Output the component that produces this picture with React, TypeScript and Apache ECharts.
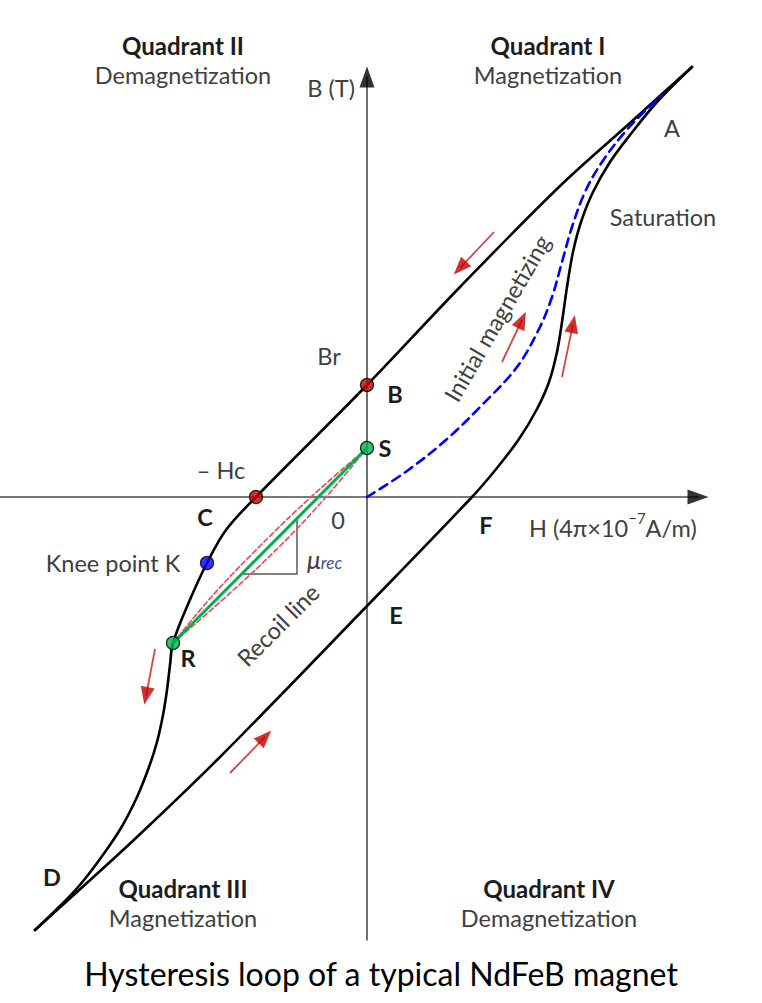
import React, { useEffect, useRef } from "react";
import * as echarts from "echarts";

// Field axis H (x) and induction axis B (y), drawing units, origin at H = 0, B = 0
const hRange = [-367, 395];
const bRange = [-506, 497];

// Descending branch: A -> B (Br) -> C (-Hc) -> K -> R -> D
const descendingBranch: number[][] = [
  [325, 430], [295, 403], [263, 374], [193, 311], [93, 210], [0, 112],
  [-111, 0], [-141, -33], [-160, -66], [-178, -105], [-194, -146],
  [-197, -168], [-200, -193], [-204, -218], [-210, -245], [-218, -270],
  [-230, -300], [-246, -331], [-267, -362], [-288, -389], [-310, -412], [-332, -433],
];

// Ascending branch: D -> E -> F -> A
const ascendingBranch: number[][] = [
  [-332, -433], [-290, -395], [-230, -340], [-147, -260], [0, -109], [105, 0],
  [130, 29], [152, 58], [170, 88], [182, 115], [190, 145], [195, 175],
  [200, 210], [206, 245], [214, 275], [226, 305], [243, 335], [263, 362],
  [290, 395], [325, 430],
];

// Initial magnetizing curve (from origin to saturation)
const initialCurve: number[][] = [
  [0, 0], [40, 26], [80, 58], [115, 92], [150, 130], [172, 168], [185, 200],
  [195, 235], [205, 270], [218, 305], [235, 335], [258, 365], [280, 388], [295, 402],
];

// Recoil line R -> S and its minor loop
const recoilLine: number[][] = [[-194, -146], [0, 49]];
const recoilUpper: number[][] = [[-194, -146], [-153, -97], [-106, -48], [-56, 0], [0, 49]];
const recoilLower: number[][] = [[-194, -146], [-138, -97], [-86, -48], [-41, 0], [0, 49]];
const slopeTriangle: number[][] = [[-125, -77], [-70, -77], [-70, -21]];

// Key points
const pointNames = ["B", "S", "C", "K", "R"];
const pointH = [0, 0, -111, -160, -194];
const pointB = [112, 49, 0, -66, -146];
const pointColors = ["#c00000", "#00b050", "#c00000", "#0000ff", "#00b050"];

// Direction arrows: [H tail, B tail, H head, B head]
const redArrows: number[][] = [
  [127, 265, 93, 229],
  [135, 135, 155, 177],
  [195, 120, 206, 173],
  [-212, -152, -221, -199],
  [-137, -276, -102, -240],
];

// Coordinate axes: [start H, start B, end H, end B]
const hAxisLine: number[] = [-367, 0, 331, 0];
const bAxisLine: number[] = [0, -443, 0, 420];

const angleOf = (a: number[]) => (Math.atan2(a[3] - a[1], a[2] - a[0]) * 180) / Math.PI - 90;

export default function App() {
  const ref = useRef<HTMLDivElement>(null);

  useEffect(() => {
    const chart = echarts.init(ref.current as HTMLDivElement, null, { renderer: "svg" });
    const FONT = 'Lato, "Noto Sans", sans-serif';
    const gray = "#404040";
    const dark = "#1c1c1c";
    const SZ = 23.5;

    const txt = (text: string, x: number, y: number, o: any = {}) => ({
      type: "text",
      x,
      y,
      rotation: o.rot ? (o.rot * Math.PI) / 180 : 0,
      silent: true,
      z: 50,
      style: {
        text,
        fill: o.fill || gray,
        fontFamily: FONT,
        fontSize: o.size || SZ,
        fontWeight: o.bold ? "bold" : "normal",
        fontStyle: o.italic ? "italic" : "normal",
        align: o.align || "center",
        verticalAlign: "middle",
        rich: o.rich,
      },
    });

    const lineSeries = (name: string, data: number[][], color: string, width: number, type: any = "solid", smooth: any = false, z = 2) => ({
      name,
      type: "line",
      data,
      smooth,
      symbol: "none",
      silent: true,
      z,
      lineStyle: { color, width, type, cap: "round", join: "round" },
    });

    const axes = [hAxisLine, bAxisLine];

    chart.setOption({
      animation: false,
      backgroundColor: "#ffffff",
      grid: { left: 0, right: 0, top: 0, bottom: 0, containLabel: false },
      xAxis: { type: "value", min: hRange[0], max: hRange[1], show: false },
      yAxis: { type: "value", min: bRange[0], max: bRange[1], show: false },
      series: [
        lineSeries("H axis", [[hAxisLine[0], hAxisLine[1]], [hAxisLine[2], hAxisLine[3]]], "#4d4d4d", 1.6, "solid", false, 1),
        lineSeries("B axis", [[bAxisLine[0], bAxisLine[1]], [bAxisLine[2], bAxisLine[3]]], "#4d4d4d", 1.6, "solid", false, 1),
        {
          name: "axis heads",
          type: "scatter",
          silent: true,
          z: 3,
          symbol: "triangle",
          symbolSize: [15, 21],
          data: axes.map((a) => ({ value: [a[2], a[3]], symbolRotate: angleOf(a) })),
          itemStyle: { color: "#000000" },
        },
        lineSeries("Descending branch", descendingBranch, "#000000", 2.6, "solid", 0.35, 4),
        lineSeries("Ascending branch", ascendingBranch, "#000000", 2.6, "solid", 0.35, 4),
        lineSeries("Initial magnetizing", initialCurve, "#0000ff", 2.6, [9, 6], 0.35, 5),
        lineSeries("Minor loop upper", recoilUpper, "#e05555", 1.7, [5, 3], 0.4, 5),
        lineSeries("Minor loop lower", recoilLower, "#e05555", 1.7, [5, 3], 0.4, 5),
        lineSeries("Recoil line", recoilLine, "#00b050", 3, "solid", false, 6),
        lineSeries("Slope", slopeTriangle, "#595959", 1.5, "solid", false, 3),
        {
          name: "arrow shafts",
          type: "line",
          data: [],
          silent: true,
          z: 7,
          markLine: {
            silent: true,
            animation: false,
            symbol: ["none", "none"],
            label: { show: false },
            lineStyle: { color: "#d84545", width: 1.8, type: "solid" },
            data: redArrows.map((a) => [{ coord: [a[0], a[1]] }, { coord: [a[2], a[3]] }]),
          },
        },
        {
          name: "arrow heads",
          type: "scatter",
          silent: true,
          z: 8,
          symbol: "triangle",
          symbolSize: [14, 18],
          data: redArrows.map((a) => ({ value: [a[2], a[3]], symbolRotate: angleOf(a) })),
          itemStyle: { color: "#c00000" },
        },
        {
          name: "Key points",
          type: "scatter",
          silent: true,
          z: 10,
          symbolSize: 13,
          data: pointNames.map((n, i) => ({
            name: n,
            value: [pointH[i], pointB[i]],
            itemStyle: { color: pointColors[i], borderColor: "#000000", borderWidth: 1.3 },
          })),
        },
      ],
      graphic: [
        txt("Quadrant II", 183, 45, { bold: true, fill: dark, size: 24 }),
        txt("Demagnetization", 183, 75),
        txt("Quadrant I", 548, 45, { bold: true, fill: dark, size: 24 }),
        txt("Magnetization", 548, 75),
        txt("Quadrant III", 183, 888, { bold: true, fill: dark, size: 24 }),
        txt("Magnetization", 183, 918),
        txt("Quadrant IV", 549, 888, { bold: true, fill: dark, size: 24 }),
        txt("Demagnetization", 549, 918),
        txt("B (T)", 355, 88, { align: "right" }),
        txt("A", 672, 128),
        txt("Saturation", 663, 217),
        txt("Initial magnetizing", 497, 318, { rot: 60 }),
        txt("Br", 329, 356),
        txt("B", 395, 394, { bold: true, fill: dark }),
        txt("S", 385, 448, { bold: true, fill: dark }),
        txt("\u2013 Hc", 221, 470),
        txt("C", 205, 517, { bold: true, fill: dark }),
        txt("0", 338, 520),
        txt("F", 486, 525, { bold: true, fill: dark }),
        txt("{a|H (4\u03c0\u00d710}{s|\u22127}{a|A/m)}", 529, 525, {
          align: "left",
          rich: {
            a: { fontFamily: FONT, fontSize: SZ, fill: gray, color: gray, lineHeight: 30, verticalAlign: "bottom" },
            s: { fontFamily: FONT, fontSize: 15, fill: gray, color: gray, lineHeight: 18, verticalAlign: "top" },
          },
        }),
        txt("Knee point K", 113, 563),
        txt("{m|\u03bc}{r|rec}", 307, 557, {
          align: "left",
          rich: {
            m: { fontFamily: FONT, fontSize: 25, fontStyle: "italic", fill: gray, color: gray, lineHeight: 28, verticalAlign: "bottom" },
            r: { fontFamily: FONT, fontSize: 17, fontStyle: "italic", fill: "#3f4f8f", color: "#3f4f8f", lineHeight: 15, verticalAlign: "bottom" },
          },
        }),
        txt("R", 188, 658, { bold: true, fill: dark }),
        txt("Recoil line", 278, 625, { rot: 45 }),
        txt("E", 396, 615, { bold: true, fill: dark }),
        txt("D", 52, 877, { bold: true, fill: dark }),
        txt("Hysteresis loop of a typical NdFeB magnet", 381, 973, { size: 32, fill: "#000000" }),
      ],
    });

    return () => chart.dispose();
  }, []);

  return (
    <div
      ref={ref}
      style={{ position: "absolute", left: 0, top: 0, width: 762, height: 1003, background: "#ffffff" }}
    />
  );
}
